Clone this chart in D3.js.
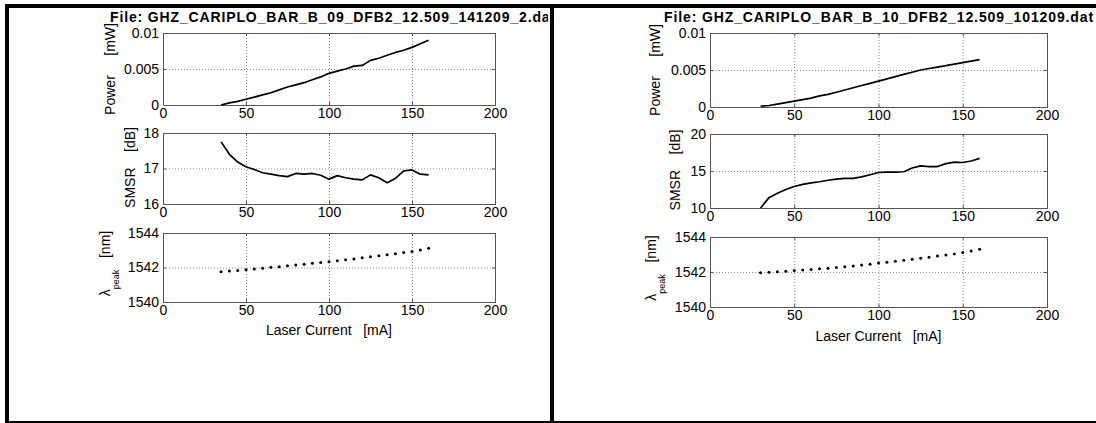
<!DOCTYPE html>
<html>
<head>
<meta charset="utf-8">
<script src="https://cdn.jsdelivr.net/npm/d3@7"></script>
<style>
  html, body { margin: 0; padding: 0; background: #fff; }
  svg { display: block; font-family: "Liberation Sans", Arial, sans-serif; }
  text { white-space: pre; }
</style>
</head>
<body>
<svg id="chart" width="1096" height="423"></svg>
<script>
// ---- Bar B_09, DFB2 (sweep 35..160 mA, 5 mA step) ----
const currentA = [35, 40, 45, 50, 55, 60, 65, 70, 75, 80, 85, 90, 95, 100, 105, 110, 115, 120, 125, 130, 135, 140, 145, 150, 155, 160];
const powerA = [0.0000, 0.0003, 0.0005, 0.0008, 0.0011, 0.0014, 0.0017, 0.0021, 0.0025, 0.0028, 0.0031, 0.0035, 0.0039, 0.0044, 0.0047, 0.0050, 0.0054, 0.0055, 0.0062, 0.0065, 0.0069, 0.0073, 0.0076, 0.0080, 0.0085, 0.0090];
const smsrA = [17.75, 17.40, 17.18, 17.05, 16.97, 16.88, 16.84, 16.80, 16.77, 16.86, 16.84, 16.86, 16.81, 16.70, 16.80, 16.74, 16.70, 16.68, 16.82, 16.74, 16.60, 16.72, 16.93, 16.96, 16.84, 16.82];
const lambdaA = [1541.76, 1541.79, 1541.83, 1541.87, 1541.91, 1541.96, 1542.01, 1542.05, 1542.10, 1542.14, 1542.19, 1542.24, 1542.29, 1542.34, 1542.39, 1542.45, 1542.50, 1542.56, 1542.62, 1542.68, 1542.74, 1542.80, 1542.87, 1542.93, 1543.01, 1543.12];

// ---- Bar B_10, DFB2 (sweep 30..160 mA, 5 mA step) ----
const currentB = [30, 35, 40, 45, 50, 55, 60, 65, 70, 75, 80, 85, 90, 95, 100, 105, 110, 115, 120, 125, 130, 135, 140, 145, 150, 155, 160];
const powerB = [0.0001, 0.0002, 0.0004, 0.0006, 0.0008, 0.0010, 0.0012, 0.0015, 0.0017, 0.0020, 0.0023, 0.0026, 0.0029, 0.0032, 0.0035, 0.0038, 0.0041, 0.0044, 0.0047, 0.0050, 0.0052, 0.0054, 0.0056, 0.0058, 0.0060, 0.0062, 0.0064];
const smsrB = [10.0, 11.4, 12.0, 12.5, 12.9, 13.2, 13.4, 13.55, 13.75, 13.9, 14.0, 14.0, 14.2, 14.5, 14.8, 14.85, 14.85, 14.9, 15.4, 15.7, 15.6, 15.6, 16.0, 16.2, 16.15, 16.35, 16.7];
const lambdaB = [1541.96, 1541.99, 1542.02, 1542.05, 1542.08, 1542.11, 1542.15, 1542.18, 1542.22, 1542.26, 1542.30, 1542.35, 1542.40, 1542.45, 1542.52, 1542.56, 1542.61, 1542.67, 1542.73, 1542.79, 1542.85, 1542.91, 1542.97, 1543.03, 1543.12, 1543.20, 1543.30];

// ---- Axis ranges and tick labels ----
const currentDomain = [0, 200];
const currentTicks = [0, 50, 100, 150, 200];
const powerDomain = [0, 0.01];
const powerTicks = [0, 0.005, 0.01];
const smsrDomainA = [16, 18];
const smsrTicksA = [16, 17, 18];
const smsrDomainB = [10, 20];
const smsrTicksB = [10, 15, 20];
const lambdaDomain = [1540, 1544];
const lambdaTicks = [1540, 1542, 1544];

const titleA = "File: GHZ_CARIPLO_BAR_B_09_DFB2_12.509_141209_2.dat";
const titleB = "File: GHZ_CARIPLO_BAR_B_10_DFB2_12.509_101209.dat";
const xLabel = "Laser Current   [mA]";
const powerLabel = "Power     [mW]";
const smsrLabel = "SMSR    [dB]";

const svg = d3.select("#chart");
const FONT = 14;
const tickFmt = d => String(d);

// Panel layouts (pixel geometry of each figure window)
const panels = [
  {
    title: titleA, titleX: 110, titleW: 446, clip: [9, 0, 539, 421],
    current: currentA, power: powerA, smsr: smsrA, lambda: lambdaA,
    smsrDomain: smsrDomainA, smsrTicks: smsrTicksA,
    x0: 163, x1: 495,
    rows: [[33, 105], [133, 204], [233, 302]],
    labelX: [115, 135, 110], xLabelY: 335
  },
  {
    title: titleB, titleX: 664, titleW: 430, clip: [554, 0, 542, 421],
    current: currentB, power: powerB, smsr: smsrB, lambda: lambdaB,
    smsrDomain: smsrDomainB, smsrTicks: smsrTicksB,
    x0: 710, x1: 1047,
    rows: [[33, 107], [134, 208], [237, 307]],
    labelX: [660, 680, 656], xLabelY: 341
  }
];

function drawAxes(g, x, y, yTicks) {
  const [x0, x1] = x.range();
  const [yb, yt] = y.range();
  const h = yb - yt, w = x1 - x0;

  // dotted grid
  g.append("g").attr("transform", `translate(0,${yb})`)
    .call(d3.axisBottom(x).tickValues(currentTicks).tickSize(-h).tickFormat(""))
    .call(s => s.select(".domain").remove())
    .selectAll("line").attr("stroke", "#8a8a8a").attr("stroke-dasharray", "1,2");
  g.append("g").attr("transform", `translate(${x0},0)`)
    .call(d3.axisLeft(y).tickValues(yTicks).tickSize(-w).tickFormat(""))
    .call(s => s.select(".domain").remove())
    .selectAll("line").attr("stroke", "#8a8a8a").attr("stroke-dasharray", "1,2");

  // inward tick marks on all four sides
  const tl = 3;
  [[yb, -tl], [yt, tl]].forEach(([yy, len]) => {
    g.append("g").attr("transform", `translate(0,${yy})`)
      .call(d3.axisBottom(x).tickValues(currentTicks).tickSize(len).tickFormat(""))
      .call(s => s.select(".domain").remove())
      .selectAll("line").attr("stroke", "#555");
  });
  [[x0, -tl], [x1, tl]].forEach(([xx, len]) => {
    g.append("g").attr("transform", `translate(${xx},0)`)
      .call(d3.axisLeft(y).tickValues(yTicks).tickSize(len).tickFormat(""))
      .call(s => s.select(".domain").remove())
      .selectAll("line").attr("stroke", "#555");
  });

  // box
  g.append("rect").attr("x", x0 + 0.5).attr("y", yt + 0.5)
    .attr("width", w).attr("height", h)
    .attr("fill", "none").attr("stroke", "#555").attr("stroke-width", 1);

  // tick labels
  g.append("g").attr("transform", `translate(0,${yb})`)
    .call(d3.axisBottom(x).tickValues(currentTicks).tickSize(0).tickPadding(3).tickFormat(tickFmt))
    .call(s => s.select(".domain").remove())
    .selectAll("text").attr("font-size", FONT).attr("font-family", null).attr("fill", "#000");
  g.append("g").attr("transform", `translate(${x0},0)`)
    .call(d3.axisLeft(y).tickValues(yTicks).tickSize(0).tickPadding(4).tickFormat(tickFmt))
    .call(s => s.select(".domain").remove())
    .selectAll("text").attr("font-size", FONT).attr("font-family", null).attr("fill", "#000");
}

function yLabel(g, xx, yc, txt) {
  return g.append("text")
    .attr("transform", `translate(${xx},${yc}) rotate(-90)`)
    .attr("text-anchor", "middle")
    .attr("font-size", FONT)
    .text(txt);
}

panels.forEach((p, i) => {
  const clipId = "clip" + i;
  svg.append("clipPath").attr("id", clipId).append("rect")
    .attr("x", p.clip[0]).attr("y", p.clip[1]).attr("width", p.clip[2]).attr("height", p.clip[3]);
  const g = svg.append("g").attr("clip-path", `url(#${clipId})`);

  const rng = r => [r[1], r[0]];
  const x = d3.scaleLinear().domain(currentDomain).range([p.x0, p.x1]);
  const yP = d3.scaleLinear().domain(powerDomain).range(rng(p.rows[0]));
  const yS = d3.scaleLinear().domain(p.smsrDomain).range(rng(p.rows[1]));
  const yL = d3.scaleLinear().domain(lambdaDomain).range(rng(p.rows[2]));

  drawAxes(g, x, yP, powerTicks);
  drawAxes(g, x, yS, p.smsrTicks);
  drawAxes(g, x, yL, lambdaTicks);

  const line = (ys) => d3.line().x((d, k) => x(p.current[k])).y(d => ys(d));
  g.append("path").datum(p.power).attr("d", line(yP))
    .attr("fill", "none").attr("stroke", "#000").attr("stroke-width", 1.7).attr("stroke-linejoin", "round");
  g.append("path").datum(p.smsr).attr("d", line(yS))
    .attr("fill", "none").attr("stroke", "#000").attr("stroke-width", 1.7).attr("stroke-linejoin", "round");
  g.selectAll(null).data(p.lambda).enter().append("circle")
    .attr("cx", (d, k) => x(p.current[k])).attr("cy", d => yL(d))
    .attr("r", 1.5).attr("fill", "#000");

  // title
  const t = g.append("text").attr("x", p.titleX).attr("y", 22)
    .attr("font-size", FONT).attr("font-weight", "bold").text(p.title);
  const natural = t.node().getComputedTextLength();
  t.attr("letter-spacing", (p.titleW - natural) / p.title.length);

  // axis labels
  const cx = (p.x0 + p.x1) / 2;
  yLabel(g, p.labelX[0], (p.rows[0][0] + p.rows[0][1]) / 2, powerLabel);
  yLabel(g, p.labelX[1], (p.rows[1][0] + p.rows[1][1]) / 2 - 1, smsrLabel);
  const lt = yLabel(g, p.labelX[2], (p.rows[2][0] + p.rows[2][1]) / 2 - 4, "");
  lt.append("tspan").text("\u03bb");
  lt.append("tspan").attr("font-size", 9).attr("dy", 9).text("peak");
  lt.append("tspan").attr("dy", -9).text("   [nm]");

  g.append("text").attr("x", cx).attr("y", p.xLabelY)
    .attr("text-anchor", "middle").attr("font-size", FONT).text(xLabel);
});

// figure window frames
svg.append("rect").attr("x", 5).attr("y", 4).attr("width", 1091).attr("height", 4).attr("fill", "#000");
svg.append("rect").attr("x", 5).attr("y", 4).attr("width", 4).attr("height", 419).attr("fill", "#000");
svg.append("rect").attr("x", 550).attr("y", 4).attr("width", 4).attr("height", 419).attr("fill", "#000");
svg.append("rect").attr("x", 5).attr("y", 421).attr("width", 1091).attr("height", 2).attr("fill", "#000");
</script>
</body>
</html>
